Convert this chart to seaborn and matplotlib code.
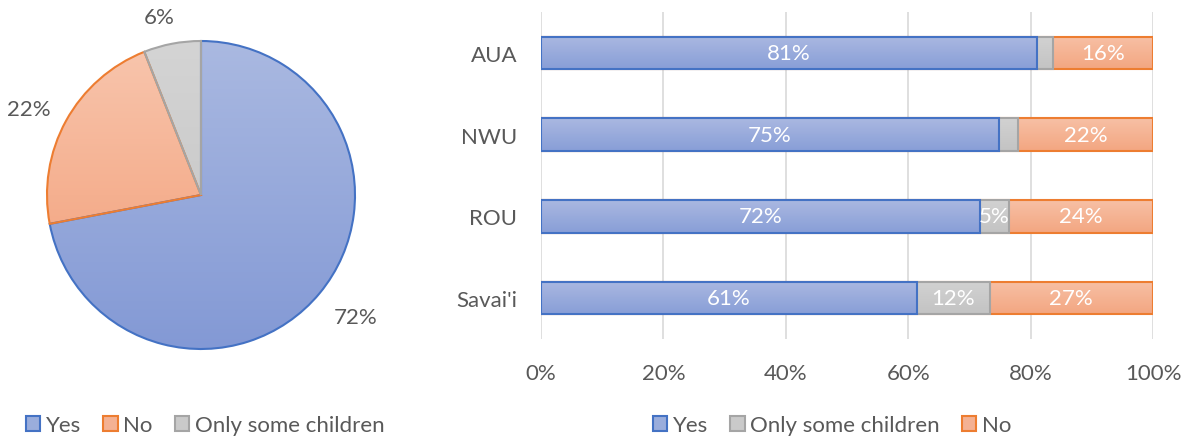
import matplotlib
matplotlib.use("Agg")
import matplotlib.pyplot as plt
from matplotlib.patches import Patch
from matplotlib.colors import to_rgb
import seaborn as sns
import pandas as pd
import numpy as np

# ---- data ----
pie_labels = ["Yes", "No", "Only some children"]
pie_values = [72, 22, 6]

sites = ["AUA", "NWU", "ROU", "Savai'i"]
yes_vals = [81.0, 74.8, 71.8, 61.4]
some_vals = [2.7, 3.2, 4.6, 11.9]
no_vals = [16.3, 22.0, 23.6, 26.7]
xtick_vals = [0, 20, 40, 60, 80, 100]

# ---- style ----
sns.set_theme(style="white")
plt.rcParams["font.family"] = ["Lato", "DejaVu Sans"]
TXT = "#595959"
FS = 16
YES_F, YES_E = "#9AADDC", "#4472C4"
NO_F, NO_E = "#F4B193", "#ED7D31"
SOME_F, SOME_E = "#CACACA", "#A5A5A5"
# gradient (top, bottom)
PIE_GRAD = {"Yes": ("#AAB9E1", "#8399D5"), "No": ("#F8C6AE", "#F29A72"),
            "Some": ("#D4D4D4", "#C2C2C2")}
BAR_GRAD = {"Yes": ("#AAB8E1", "#889ED7"), "No": ("#F7C0A5", "#F3A681"),
            "Some": ("#D2D2D2", "#C3C3C3")}


def grad_img(top, bottom, n=256):
    t = np.linspace(0, 1, n)[:, None, None]
    a = np.array(to_rgb(top))[None, None, :]
    b = np.array(to_rgb(bottom))[None, None, :]
    return a * (1 - t) + b * t


W, H = 1187, 439
fig = plt.figure(figsize=(W / 100, H / 100), dpi=100)

# ---- pie ----
cx, cy, r = 201, 196, 154
axp = fig.add_axes([(cx - r) / W, 1 - (cy + r) / H, 2 * r / W, 2 * r / H])
wedges, _, autot = axp.pie(
    pie_values, startangle=90, counterclock=False,
    colors=[YES_F, NO_F, SOME_F],
    autopct=lambda p: f"{p:.0f}%", pctdistance=1.24,
    wedgeprops=dict(linewidth=1.5),
    textprops=dict(color=TXT, fontsize=FS),
)
for w, ec, key in zip(wedges, [YES_E, NO_E, SOME_E], ["Yes", "No", "Some"]):
    w.set_edgecolor(ec)
    w.set_facecolor("none")
    w.set_zorder(3)
    im = axp.imshow(grad_img(*PIE_GRAD[key]), extent=(-1, 1, -1, 1),
                    origin="upper", aspect="auto", zorder=2)
    im.set_clip_path(w)
px, py = autot[2].get_position()
autot[2].set_position((px - 0.04, py - 0.06))
px, py = autot[1].get_position()
autot[1].set_position((px - 0.03, py - 0.04))
px, py = autot[0].get_position()
autot[0].set_position((px + 0.05, py))
axp.set_xlim(-1, 1)
axp.set_ylim(-1, 1)
axp.set_aspect("auto")
axp.axis("off")

# ---- stacked bars ----
x0, x1, y0, y1 = 541, 1153, 13, 340
axb = fig.add_axes([x0 / W, 1 - y1 / H, (x1 - x0) / W, (y1 - y0) / H])
df = pd.DataFrame({"site": sites, "Yes": yes_vals, "Some": some_vals, "No": no_vals})
df["c1"] = df["Yes"]
df["c2"] = df["Yes"] + df["Some"]
df["c3"] = df["c2"] + df["No"]

layers = [("c3", "No", NO_F, NO_E), ("c2", "Some", SOME_F, SOME_E), ("c1", "Yes", YES_F, YES_E)]
for li, (col, key, fc, ec) in enumerate(layers):
    n_before = len(axb.patches)
    sns.barplot(data=df, x=col, y="site", orient="h", color=fc, edgecolor=ec,
                linewidth=1.5, width=0.4, saturation=1, ax=axb)
    z = 2 + li
    for p in axb.patches[n_before:]:
        p.set_facecolor("none")
        p.set_zorder(z + 0.5)
        bx, by, bw, bh = p.get_x(), p.get_y(), p.get_width(), p.get_height()
        im = axb.imshow(grad_img(*BAR_GRAD[key]), extent=(bx, bx + bw, by + bh, by),
                        origin="upper", aspect="auto", zorder=z)
        im.set_clip_path(p)

for i, row in df.iterrows():
    starts = [0, row["c1"], row["c2"]]
    for s, v in zip(starts, [row["Yes"], row["Some"], row["No"]]):
        if v >= 4:
            axb.text(s + v / 2, i, f"{v:.0f}%", ha="center", va="center",
                     color="white", fontsize=FS, zorder=10)

axb.set_xlim(0, 100)
axb.set_ylim(len(sites) - 0.5, -0.5)
axb.set_aspect("auto")
axb.set_xticks(xtick_vals)
axb.set_xticklabels([f"{v}%" for v in xtick_vals])
axb.set_xlabel("")
axb.set_ylabel("")
axb.grid(axis="x", color="#D9D9D9", linewidth=1.2)
axb.set_axisbelow(True)
for s in axb.spines.values():
    s.set_visible(False)
axb.tick_params(axis="x", length=0, pad=17, labelsize=FS, labelcolor=TXT)
axb.tick_params(axis="y", length=0, pad=17, labelsize=FS, labelcolor=TXT)

# ---- legends ----
def handles(names, fcs, ecs):
    return [Patch(facecolor=f, edgecolor=e, linewidth=1.5, label=n) for n, f, e in zip(names, fcs, ecs)]

leg_kw = dict(loc="center", ncol=3, frameon=False, fontsize=FS, labelcolor=TXT,
              handlelength=0.65, handleheight=0.65, handletextpad=0.25, columnspacing=1.0)
fig.legend(handles=handles(pie_labels, [YES_F, NO_F, SOME_F], [YES_E, NO_E, SOME_E]),
           bbox_to_anchor=(205 / W, 1 - 426 / H), **leg_kw)
fig.legend(handles=handles(["Yes", "Only some children", "No"], [YES_F, SOME_F, NO_F], [YES_E, SOME_E, NO_E]),
           bbox_to_anchor=(832 / W, 1 - 426 / H), **leg_kw)

fig.savefig("out.png", dpi=100, facecolor="white")
